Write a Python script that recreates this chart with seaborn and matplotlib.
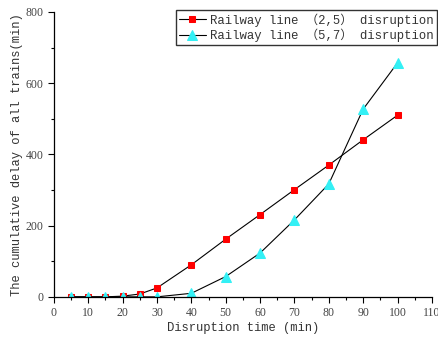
import matplotlib
matplotlib.use("Agg")
import matplotlib.pyplot as plt
import numpy as np
import pandas as pd
import seaborn as sns
from matplotlib.ticker import MultipleLocator

# 数据
disruption_time = [5, 10, 15, 20, 25, 30, 40, 50, 60, 70, 80, 90, 100]
delay_line_25 = [0, 0, 0, 2, 8, 25, 90, 162, 231, 301, 370, 441, 510]
delay_line_57 = [0, 0, 0, 0, 0, 0, 10, 57, 123, 216, 317, 527, 657]
series_labels = ["Railway line （2,5） disruption", "Railway line （5,7） disruption"]

sns.set_style("ticks")
plt.rcParams["font.family"] = ["Liberation Mono", "Noto Sans CJK SC", "DejaVu Sans"]

df = pd.DataFrame({
    "t": disruption_time,
    "d25": delay_line_25,
    "d57": delay_line_57,
})

fig = plt.figure(figsize=(4.38, 3.42), dpi=100)
ax = fig.add_axes([0.123, 0.132, 0.863, 0.833])

sns.lineplot(data=df, x="t", y="d25", ax=ax, color="black", lw=0.8,
             marker="s", markersize=5, markerfacecolor="red", markeredgecolor="red",
             label=series_labels[0])
sns.lineplot(data=df, x="t", y="d57", ax=ax, color="black", lw=0.8,
             marker="^", markersize=6.5, markerfacecolor="#33F0F5", markeredgecolor="#33F0F5",
             label=series_labels[1])

ax.set_xlim(0, 110)
ax.set_ylim(0, 800)
ax.xaxis.set_major_locator(MultipleLocator(10))
ax.xaxis.set_minor_locator(MultipleLocator(5))
ax.yaxis.set_major_locator(MultipleLocator(200))
ax.yaxis.set_minor_locator(MultipleLocator(100))
ax.tick_params(which="major", direction="out", length=4, width=0.8, colors="black",
               labelcolor="#444444", labelsize=8.5)
ax.tick_params(which="minor", direction="out", length=2.5, width=0.8, colors="black")
for lab in ax.get_xticklabels() + ax.get_yticklabels():
    lab.set_family("Liberation Serif")

sns.despine(ax=ax)
for s in ["left", "bottom"]:
    ax.spines[s].set_linewidth(0.9)
    ax.spines[s].set_color("black")

ax.set_xlabel("Disruption time (min)", fontsize=8.7, color="#333333", labelpad=2)
ax.set_ylabel("The cumulative delay of all trains(min)", fontsize=8.7, color="#333333", labelpad=2)

leg = ax.legend(loc="upper right", bbox_to_anchor=(0.998, 0.97), bbox_transform=fig.transFigure,
                fontsize=8.8, frameon=True, fancybox=False, edgecolor="black",
                handlelength=2.2, handletextpad=0.4, borderpad=0.25, labelspacing=0.15,
                borderaxespad=0)
leg.get_frame().set_linewidth(1.0)
for t in leg.get_texts():
    t.set_color("#333333")

fig.savefig("out.png", dpi=100)
